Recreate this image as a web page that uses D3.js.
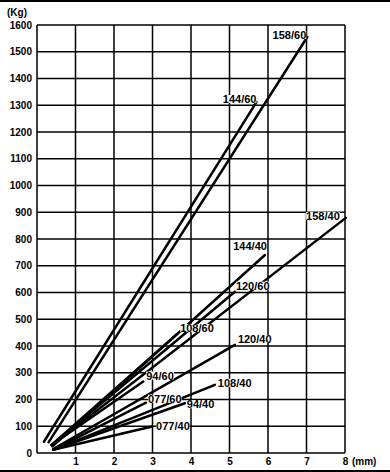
<!DOCTYPE html>
<html>
<head>
<meta charset="utf-8">
<script src="https://cdn.jsdelivr.net/npm/d3@7"></script>
<style>
  body { margin: 0; background: #fff; }
  text { font-family: "Liberation Sans", Arial, sans-serif; font-weight: bold; fill: #000; }
</style>
</head>
<body>
<script>
// spring names and the two ends of each line (mm, kg)
var springs = ["158/60", "144/60", "158/40", "144/40", "120/60", "108/60", "94/60", "120/40", "108/40", "94/40", "077/60", "077/40"];
var mmStart = [0.30, 0.18, 0.40, 0.40, 0.38, 0.38, 0.38, 0.42, 0.42, 0.42, 0.42, 0.42];
var kgStart = [40, 42, 30, 25, 30, 30, 30, 15, 12, 12, 12, 12];
var mmEnd   = [7.02, 5.70, 8.02, 5.92, 5.14, 3.64, 2.76, 5.14, 4.62, 3.84, 2.83, 2.99];
var kgEnd   = [1555, 1312, 879, 740, 603, 445, 267, 404, 255, 186, 188, 99];

// tick labels
var xTicks = [1, 2, 3, 4, 5, 6, 7, 8];
var yTicks = d3.range(0, 1700, 100);

// label placement next to the line end: anchor, dx, dy
var labelPos = {
  "158/60": ["end", -1, 2],
  "144/60": ["end", 0, 1],
  "158/40": ["end", -6, 2],
  "144/40": ["end", 2, -5],
  "120/60": ["start", 1, -2],
  "108/60": ["start", 3, -2],
  "94/60":  ["start", 3, -2],
  "120/40": ["start", 3, -2],
  "108/40": ["start", 3, 2],
  "94/40":  ["start", 2, 5],
  "077/60": ["start", 2, 0],
  "077/40": ["start", 4, 3]
};

var margin = {top: 25, right: 45, bottom: 19, left: 37},
    width = 390 - margin.left - margin.right,
    height = 472 - margin.top - margin.bottom;

var x = d3.scaleLinear().domain([0, 8]).range([0, width]);
var y = d3.scaleLinear().domain([0, 1600]).range([height, 0]);

var root = d3.select("body").append("svg")
    .attr("width", 390)
    .attr("height", 472);

// page rules at top and bottom
root.append("line").attr("x1", 0).attr("x2", 390).attr("y1", 1).attr("y2", 1)
    .attr("stroke", "#000").attr("stroke-width", 2);
root.append("line").attr("x1", 0).attr("x2", 390).attr("y1", 471).attr("y2", 471)
    .attr("stroke", "#000").attr("stroke-width", 2);

var svg = root.append("g")
    .attr("transform", "translate(" + margin.left + "," + margin.top + ")");

// grid
svg.selectAll(".vgrid")
    .data(xTicks)
  .enter().append("line")
    .attr("x1", function(d) { return x(d); })
    .attr("x2", function(d) { return x(d); })
    .attr("y1", 0).attr("y2", height)
    .attr("stroke", "#000").attr("stroke-width", 1.5);

svg.selectAll(".hgrid")
    .data(yTicks)
  .enter().append("line")
    .attr("x1", 0).attr("x2", width)
    .attr("y1", function(d) { return y(d); })
    .attr("y2", function(d) { return y(d); })
    .attr("stroke", "#000").attr("stroke-width", 1.5);

svg.append("line").attr("x1", 0).attr("x2", 0).attr("y1", 0).attr("y2", height)
    .attr("stroke", "#000").attr("stroke-width", 1.5);

// y axis labels
var yAxis = svg.append("g")
    .call(d3.axisLeft(y).tickValues(yTicks).tickSize(0).tickPadding(5).tickFormat(d3.format("d")));
yAxis.select(".domain").remove();
yAxis.selectAll("text").style("font-size", "10px").style("font-family", null);

// x axis labels
var xAxis = svg.append("g")
    .attr("transform", "translate(0," + height + ")")
    .call(d3.axisBottom(x).tickValues(xTicks).tickSize(0).tickPadding(5).tickFormat(d3.format("d")));
xAxis.select(".domain").remove();
xAxis.selectAll("text").style("font-size", "10px").style("font-family", null);

svg.append("text")
    .attr("x", width + 7)
    .attr("y", height + 12)
    .style("font-size", "10px")
    .text("(mm)");

svg.append("text")
    .attr("x", -30)
    .attr("y", -9)
    .style("font-size", "10px")
    .text("(Kg)");

// spring lines
svg.selectAll(".spring")
    .data(springs)
  .enter().append("line")
    .attr("class", "spring")
    .attr("x1", function(d, i) { return x(mmStart[i]); })
    .attr("y1", function(d, i) { return y(kgStart[i]); })
    .attr("x2", function(d, i) { return x(mmEnd[i]); })
    .attr("y2", function(d, i) { return y(kgEnd[i]); })
    .attr("stroke", "#000")
    .attr("stroke-width", 2.5)
    .attr("stroke-linecap", "round");

// labels with a white backing so they sit over the lines
var labels = svg.selectAll(".lbl")
    .data(springs)
  .enter().append("text")
    .attr("class", "lbl")
    .attr("x", function(d, i) { return x(mmEnd[i]) + labelPos[d][1]; })
    .attr("y", function(d, i) { return y(kgEnd[i]) + labelPos[d][2]; })
    .attr("text-anchor", function(d) { return labelPos[d][0]; })
    .style("font-size", "11px")
    .text(function(d) { return d; });

labels.each(function() {
  var b = this.getBBox();
  svg.insert("rect", ".lbl")
      .attr("x", b.x).attr("y", b.y + 2)
      .attr("width", b.width).attr("height", b.height - 4)
      .attr("fill", "#fff");
});
</script>
</body>
</html>
